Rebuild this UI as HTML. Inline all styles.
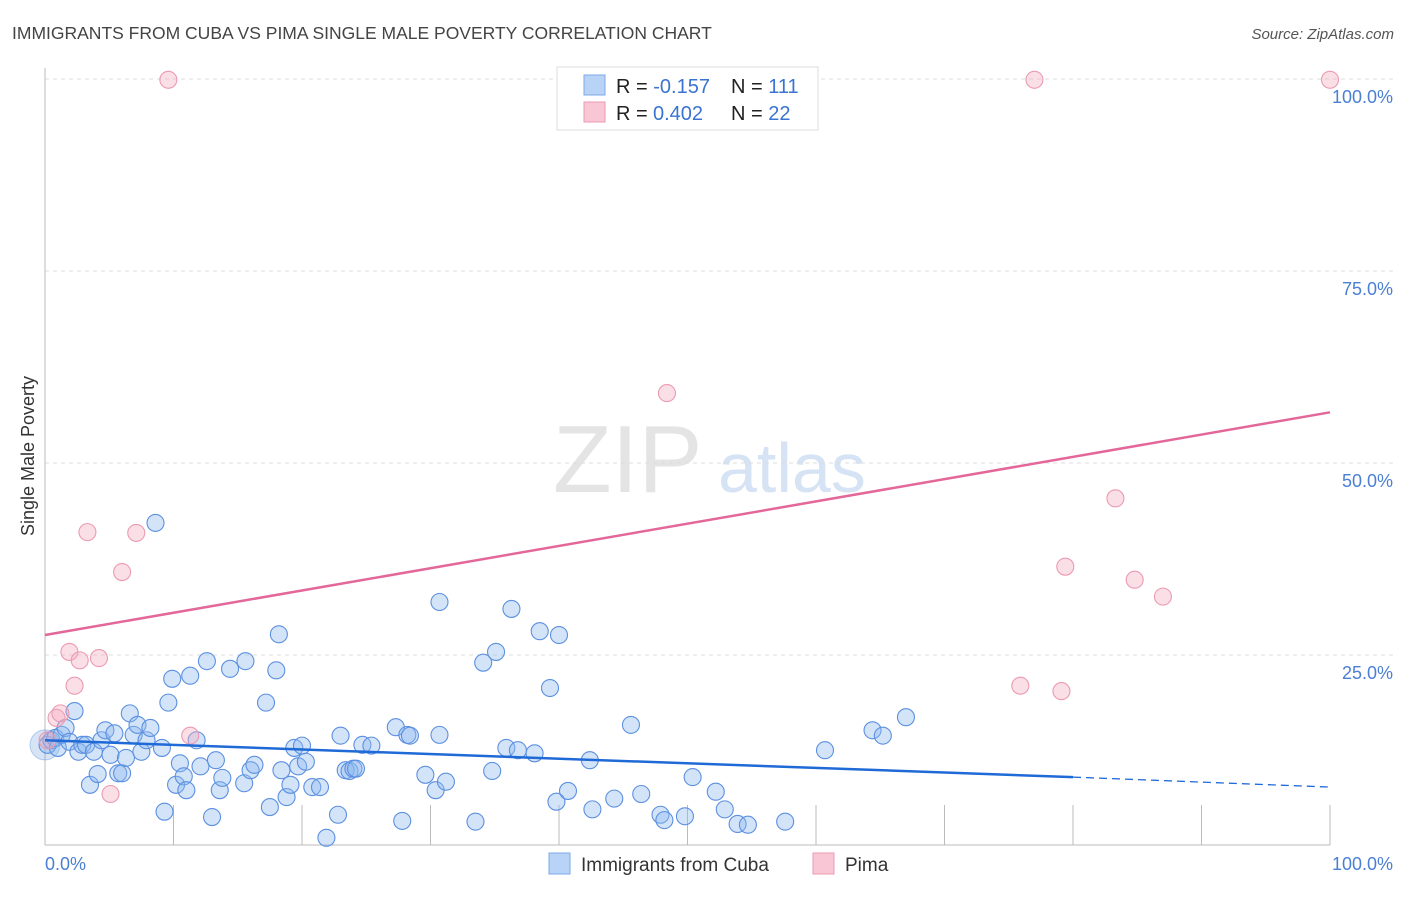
<!DOCTYPE html>
<html><head><meta charset="utf-8"><style>
body{margin:0;background:#fff;font-family:"Liberation Sans",sans-serif;}
svg text{font-family:"Liberation Sans",sans-serif;}
</style></head><body>
<svg id="chart" width="1406" height="892">
<text x="12" y="39" font-size="17.5" fill="#444">IMMIGRANTS FROM CUBA VS PIMA SINGLE MALE POVERTY CORRELATION CHART</text>
<text x="1394" y="39" font-size="15" fill="#555" font-style="italic" text-anchor="end">Source: ZipAtlas.com</text>
<text transform="translate(34,456) rotate(-90)" font-size="18" fill="#333" text-anchor="middle">Single Male Poverty</text>
<g>
<text x="553" y="492" font-size="96" font-family="Liberation Serif" fill="#e4e4e4">ZIP</text>
<text x="718" y="492" font-size="70" fill="#d6e3f5">atlas</text>
</g>
<g id="grid"></g><g id="axes"></g><g id="marks"></g>
<g>
<rect x="557" y="67" width="261" height="63" fill="#fff" stroke="#ddd"/>
<rect x="584" y="75" width="21" height="20" fill="#b8d3f5" stroke="#7eaae8"/>
<rect x="584" y="102" width="21" height="20" fill="#f8c6d4" stroke="#ee9ab3"/>
<text x="616" y="93" font-size="20" fill="#222">R = <tspan fill="#3a74d0">-0.157</tspan><tspan x="731">N = </tspan><tspan fill="#3a74d0">111</tspan></text>
<text x="616" y="120" font-size="20" fill="#222">R = <tspan fill="#3a74d0" x="653">0.402</tspan><tspan x="731">N = </tspan><tspan fill="#3a74d0">22</tspan></text>
</g>
<g>
<rect x="549" y="853" width="21" height="21" fill="#b8d3f5" stroke="#7eaae8"/>
<text x="581" y="871" font-size="19" fill="#333">Immigrants from Cuba</text>
<rect x="813" y="853" width="21" height="21" fill="#f8c6d4" stroke="#ee9ab3"/>
<text x="845" y="871" font-size="19" fill="#333">Pima</text>
</g>
</svg>
<script>
const yTicks=[25,50,75,100];
const yTickLabels=["25.0%","50.0%","75.0%","100.0%"];
const xTickLabels=["0.0%","100.0%"];
const cubaX=[0.2,0.5,0.8,1.0,1.3,1.6,1.9,2.3,2.6,2.9,3.2,3.5,3.8,4.1,4.4,4.7,5.1,5.4,5.7,6.0,6.3,6.6,6.9,7.2,7.5,7.9,8.2,8.6,9.1,9.3,9.6,9.9,10.2,10.5,10.8,11.0,11.3,11.8,12.1,12.6,13.0,13.3,13.6,13.8,14.4,15.5,15.6,16.0,16.3,17.2,17.5,18.0,18.2,18.4,18.8,19.1,19.4,19.7,20.0,20.3,20.8,21.4,21.9,22.8,23.0,23.4,23.7,24.0,24.2,24.7,25.4,27.3,27.8,28.2,28.4,29.6,30.4,30.7,30.7,31.2,33.5,34.1,34.8,35.1,35.9,36.3,36.8,38.1,38.5,39.3,39.8,40.0,40.7,42.4,42.6,44.3,45.6,46.4,47.9,48.2,49.8,50.4,52.2,52.9,53.9,54.7,57.6,60.7,64.4,65.2,67.0];
const cubaY=[13.3,13.9,14.2,12.9,14.6,15.5,13.7,17.7,12.4,13.3,13.3,8.1,12.4,9.5,13.9,15.2,12.0,14.8,9.6,9.6,11.6,17.4,14.6,15.9,12.4,13.9,15.5,42.2,12.9,4.6,18.8,21.9,8.1,10.9,9.2,7.4,22.3,13.9,10.5,24.2,3.9,11.3,7.4,9.0,23.2,8.3,24.2,10.0,10.7,18.8,5.2,23.0,27.7,10.0,6.5,8.1,12.9,10.5,13.2,11.1,7.8,7.8,1.2,4.2,14.5,10.0,9.9,10.2,10.2,13.3,13.2,15.6,3.4,14.6,14.5,9.4,7.4,14.6,31.9,8.5,3.3,24.0,9.9,25.4,12.9,31.0,12.6,12.2,28.1,20.7,5.9,27.6,7.3,11.3,4.9,6.3,15.9,6.9,4.2,3.5,4.0,9.1,7.2,4.9,3.0,2.9,3.3,12.6,15.2,14.5,16.9];
const pimaX=[9.6,77.0,100,3.3,7.1,6.0,48.4,83.3,79.4,84.8,87.0,1.9,2.7,4.2,2.3,0.9,1.2,5.1,11.3,75.9,79.1,0.2];
const pimaY=[99.9,99.9,99.9,41.0,40.9,35.8,59.1,45.4,36.5,34.8,32.6,25.4,24.3,24.6,21.0,16.8,17.4,6.9,14.5,21.0,20.3,13.9];
const cubaTrend=[13.9,9.1,7.8];
const cubaTrendX=[0,80,100];
const pimaTrend=[27.6,56.6];
const pimaTrendX=[0,100];

const NS="http://www.w3.org/2000/svg";
const X=v=>45+v*12.85, Y=v=>847-v*7.68;
function mk(tag,attrs,parent){const e=document.createElementNS(NS,tag);for(const k in attrs)e.setAttribute(k,attrs[k]);document.getElementById(parent).appendChild(e);return e;}
yTicks.forEach((t,i)=>{
 const l=mk('line',{x1:45,x2:1393,y1:Y(t),y2:Y(t),stroke:'#ddd','stroke-dasharray':'4,4'},'grid');
 
 
 const tx=mk('text',{x:1393,y:Y(t)+24,'font-size':18,fill:'#4a7fd4','text-anchor':'end'},'grid');
 tx.textContent=yTickLabels[i];
 
 
});
let a=mk('line',{x1:45,x2:45,y1:68,y2:845,stroke:'#bbb'},'axes');


a=mk('line',{x1:45,x2:1330,y1:845,y2:845,stroke:'#bbb'},'axes');


for(let i=1;i<=10;i++){
 const t=mk('line',{x1:X(i*10),x2:X(i*10),y1:805,y2:845,stroke:'#bbb'},'axes');
 
 
}
let xl=mk('text',{x:45,y:870,'font-size':18,fill:'#4a7fd4'},'axes');xl.textContent=xTickLabels[0];


xl=mk('text',{x:1393,y:870,'font-size':18,fill:'#4a7fd4','text-anchor':'end'},'axes');xl.textContent=xTickLabels[1];



const big=mk('circle',{cx:X(0),cy:Y(13.3),r:15,fill:'rgba(120,165,225,0.3)',stroke:'rgba(90,140,220,0.4)'},'marks');


cubaX.forEach((v,i)=>{
 const c=mk('circle',{cx:X(v),cy:Y(cubaY[i]),r:8.5,fill:'rgba(140,185,240,0.38)',stroke:'#5c90e0','stroke-width':1.1},'marks');
 
 
});
pimaX.forEach((v,i)=>{
 const c=mk('circle',{cx:X(v),cy:Y(pimaY[i]),r:8.5,fill:'rgba(245,170,190,0.38)',stroke:'#eb9ab2','stroke-width':1.1},'marks');
 
 
});
let tl=mk('line',{x1:X(pimaTrendX[0]),y1:Y(pimaTrend[0]),x2:X(pimaTrendX[1]),y2:Y(pimaTrend[1]),stroke:'#e4679a','stroke-width':2.5},'marks');


tl=mk('line',{x1:X(cubaTrendX[0]),y1:Y(cubaTrend[0]),x2:X(cubaTrendX[1]),y2:Y(cubaTrend[1]),stroke:'#1f6ad6','stroke-width':2.5},'marks');


tl=mk('line',{x1:X(cubaTrendX[1]),y1:Y(cubaTrend[1]),x2:X(cubaTrendX[2]),y2:Y(cubaTrend[2]),stroke:'#1f6ad6','stroke-width':1.3,'stroke-dasharray':'8,5'},'marks');


</script>
</body></html>
